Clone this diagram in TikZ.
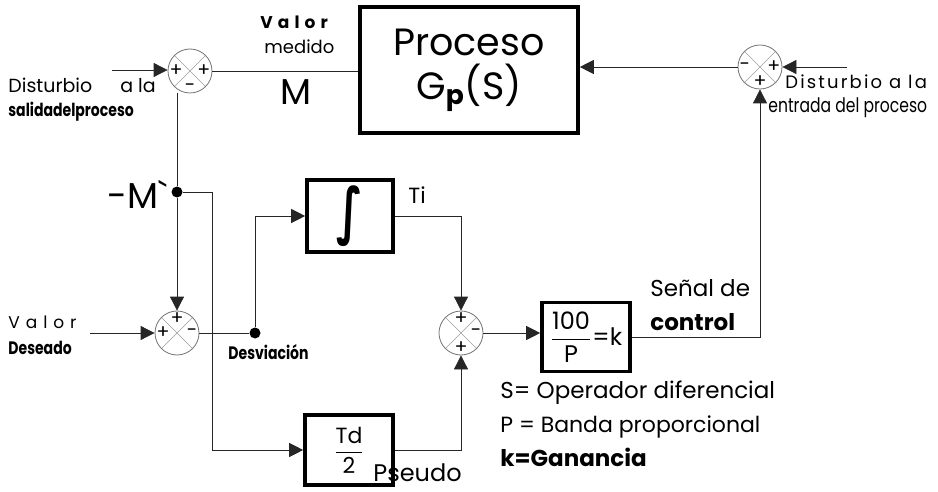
\documentclass[tikz,border=0pt]{standalone}
\usepackage{amsmath}
\usepackage{fontspec}
\setmainfont{Poppins}
\newfontfamily\condfont[FakeStretch=0.78]{Poppins}
\newfontfamily\symbfont{DejaVu Sans}
\usepackage{tikz}
\usetikzlibrary{arrows.meta, positioning, calc}
\definecolor{clrLine}{gray}{0.15}
\definecolor{clrSum}{gray}{0.45}
\newcommand{\fsz}[1]{\fontsize{#1}{#1}\selectfont}

\begin{document}
\begin{tikzpicture}[
  x=0.5pt, y=-0.5pt,
  box/.style={
    rectangle, draw=black, line width=1.8pt, inner sep=2pt, align=center
  },
  sumj/.style={
    circle, draw=clrSum, thin, minimum size=22pt, inner sep=0pt,
    path picture={\draw[clrSum!70, very thin]
      (path picture bounding box.north west) -- (path picture bounding box.south east)
      (path picture bounding box.north east) -- (path picture bounding box.south west);}
  },
  sgn/.style={font=\fsz{9.5}, inner sep=0.8pt},
  jdot/.style={circle, fill=black, inner sep=0pt, minimum size=5.5pt},
  conn/.style={thin, color=clrLine},
  arrow/.style={-{Triangle[length=7pt,width=7pt]}, thin, color=clrLine},
  lbl/.style={inner sep=0pt, anchor=west}
]
\useasboundingbox (0,0) rectangle (938,492);

% lazo del proceso
\node[box, minimum width=109pt, minimum height=63pt] (proc) at (469,70)
      {\fsz{19}Proceso\\[3pt]\fsz{19}G\textsubscript{\textbf{p}}(S)};
\node[sumj] (j1) at (190,71) {};
\node[sumj] (j3) at (760,67) {};
\coordinate (dsal) at (112,70);
\coordinate (dent) at (847,67);

\node[sgn, anchor=west]  at (j1.west)  {+};
\node[sgn, anchor=east]  at (j1.east)  {+};
\node[sgn, anchor=south] at (j1.south) {-};
\node[sgn, anchor=west]  at (j3.west)  {-};
\node[sgn, anchor=east]  at (j3.east)  {+};
\node[sgn, anchor=south] at (j3.south) {+};

\draw[arrow] (dsal) -- (dsal -| j1.west);
\draw[conn]  (j1) -- (j1 -| proc.west);
\draw[arrow] (dent) -- (j3);
\draw[arrow] (j3) -- (j3 -| proc.east);

\node[lbl, font=\fsz{8.5}\bfseries\addfontfeature{LetterSpace=30}] at (260,22) {Valor};
\node[lbl, font=\fsz{9}] at (264,47) {medido};
\node[font=\fsz{18}] (mlbl) at (296,92) {M};
\node[lbl, font=\fsz{9.5}] at (8,85) {Disturbio\hspace{14pt}a la};
\node[lbl, font=\condfont\fsz{9}\bfseries] at (8,112) {salidadelproceso};
\node[lbl, font=\fsz{9}\addfontfeature{LetterSpace=12}] at (785,82) {Disturbio a la};
\node[lbl, font=\condfont\fsz{10}] at (768,108) {entrada del proceso};

% controlador
\node[jdot] (mdot) at (177,192) {};
\node[font=\fsz{18}, anchor=east, inner sep=0pt] at (168,194) {-M\textasciigrave};
\node[sumj] (j2) at (177,333) {};
\node[jdot] (ddot) at (255,333) {};
\coordinate (dval) at (90,333);
\node[box, minimum width=43pt, minimum height=36pt] (integ) at (350,216)
      {\scalebox{0.7}[1]{\symbfont\bfseries\fsz{31}∫}};
\node[box, minimum width=44pt, minimum height=35pt] (td) at (349,450)
      {\fsz{11}$\dfrac{\text{Td}}{\text{2}}$};
\node[sumj] (j4) at (461,333) {};
\node[box, minimum width=44pt, minimum height=34.5pt] (gain) at (586,337)
      {\fsz{12}$\dfrac{\text{100}}{\text{P}}$=k};

\node[sgn, anchor=north] at (j2.north) {+};
\node[sgn, anchor=west]  at (j2.west)  {+};
\node[sgn, anchor=east]  at (j2.east)  {-};
\node[sgn, anchor=north] at (j4.north) {+};
\node[sgn, anchor=east]  at (j4.east)  {-};
\node[sgn, anchor=south] at (j4.south) {+};

\draw[conn]  (mdot) -- (mdot |- j1.south);
\draw[arrow] (mdot) -- (j2);
\draw[arrow] (mdot) -- ++(35,0) |- (td);
\draw[arrow] (dval) -- (j2);
\draw[conn]  (j2) -- (ddot);
\draw[arrow] (ddot) |- (integ);
\draw[arrow] (integ) -| (j4);
\draw[arrow] (td) -| (j4);
\draw[arrow] (j4) -- (j4 -| gain.west);
\draw[arrow] (gain) -| (j3);

\node[lbl, font=\fsz{11}] at (408,195) {Ti};
\node[lbl, font=\fsz{8.5}\addfontfeature{LetterSpace=35}] at (8,322) {Valor};
\node[lbl, font=\condfont\fsz{9}\bfseries] at (8,348) {Deseado};
\node[lbl, font=\condfont\fsz{9}\bfseries] at (228,352) {Desviación};
\node[lbl, font=\fsz{12}] at (373,473) {Pseudo};
\node[lbl, font=\fsz{11.5}] at (650,288) {Señal de};
\node[lbl, font=\fsz{11.5}\bfseries] at (650,322) {control};

% leyenda
\node[lbl, font=\fsz{11.5}] at (500,393) {S= Operador diferencial};
\node[lbl, font=\fsz{11}] at (500,427) {P = Banda proporcional};
\node[lbl, font=\fsz{11.5}\bfseries] at (500,457) {k=Ganancia};

\end{tikzpicture}
\end{document}
